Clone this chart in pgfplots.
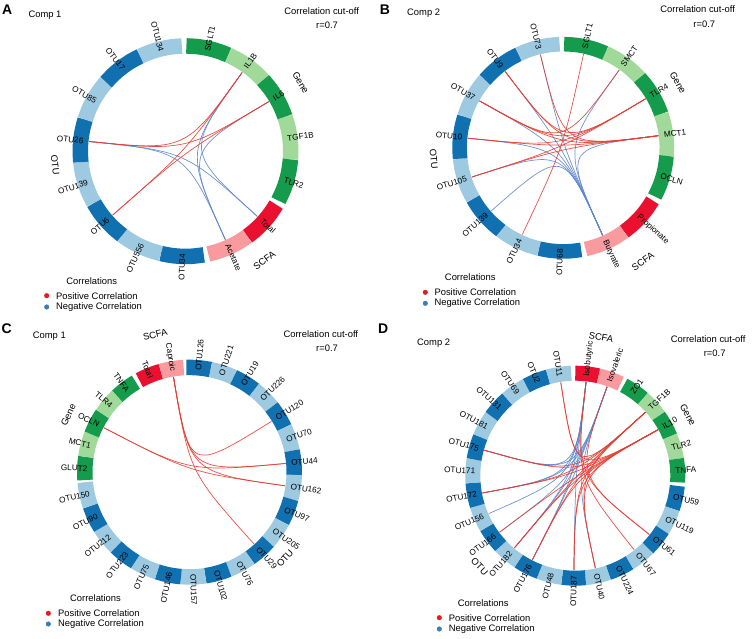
\documentclass[border=0pt]{standalone}
\usepackage{pgfplots}
\pgfplotsset{compat=1.18}
\usepackage{fontspec}
\setmainfont{Liberation Sans}
\definecolor{dg}{RGB}{20,155,75}
\definecolor{lg}{RGB}{161,217,155}
\definecolor{dr}{RGB}{236,16,48}
\definecolor{pk}{RGB}{248,154,158}
\definecolor{db}{RGB}{16,112,176}
\definecolor{lb}{RGB}{158,202,225}
\definecolor{cr}{RGB}{228,62,52}
\definecolor{cb}{RGB}{95,135,205}
\definecolor{legr}{RGB}{228,26,28}
\definecolor{legb}{RGB}{55,126,184}
\tikzset{lbl/.style={font=\fontsize{8.2}{9}\selectfont, inner sep=0pt},
         txt/.style={font=\fontsize{9.4}{11}\selectfont, inner sep=0pt}}
% panel: centre x, centre y, ring mid radius, ring width
\newcommand\panel[4]{\gdef\cx{#1}\gdef\cy{#2}\gdef\rmid{#3}\gdef\bw{#4}%
  \pgfmathsetmacro\ri{#3-#4/2-0.5}\global\let\ri\ri
  \pgfmathsetmacro\rl{#3-#4/2+5}\global\let\rl\rl}
% ring segment: start angle, end angle, colour
\newcommand\seg[3]{%
  \pgfmathsetmacro\da{((#2)-(#1))/4}%
  \pgfmathsetmacro\xA{\cx+\rmid*cos(#1)}\pgfmathsetmacro\yA{\cy+\rmid*sin(#1)}%
  \pgfmathsetmacro\xB{\cx+\rmid*cos((#1)+\da)}\pgfmathsetmacro\yB{\cy+\rmid*sin((#1)+\da)}%
  \pgfmathsetmacro\xC{\cx+\rmid*cos((#1)+2*\da)}\pgfmathsetmacro\yC{\cy+\rmid*sin((#1)+2*\da)}%
  \pgfmathsetmacro\xD{\cx+\rmid*cos((#1)+3*\da)}\pgfmathsetmacro\yD{\cy+\rmid*sin((#1)+3*\da)}%
  \pgfmathsetmacro\xE{\cx+\rmid*cos(#2)}\pgfmathsetmacro\yE{\cy+\rmid*sin(#2)}%
  \edef\tmp{\noexpand\addplot[draw=#3,line width=\bw pt,smooth] coordinates {(\xA,\yA) (\xB,\yB) (\xC,\yC) (\xD,\yD) (\xE,\yE)};}\tmp}
% chord between two segment mid angles
\newcommand\chord[3]{%
  \gdef\clist{}%
  \foreach \t in {0,0.125,0.25,0.375,0.5,0.625,0.75,0.875,1}{%
    \pgfmathsetmacro\ka{(1-\t)^3}\pgfmathsetmacro\kb{\t^3}%
    \pgfmathsetmacro\px{\cx+\ri*(\ka*cos(#1)+\kb*cos(#2))}%
    \pgfmathsetmacro\py{\cy+\ri*(\ka*sin(#1)+\kb*sin(#2))}%
    \xdef\clist{\clist (\px,\py)}}%
  \edef\tmp{\noexpand\addplot[draw=#3,line width=0.7pt,opacity=0.9,smooth] coordinates {\clist};}\tmp}
% segment label
\newcommand\lab[2]{%
  \pgfmathsetmacro\lx{\cx+\rl*cos(#1)}\pgfmathsetmacro\ly{\cy+\rl*sin(#1)}%
  \pgfmathtruncatemacro\side{cos(#1)>=0}%
  \ifnum\side=1 \node[lbl,rotate=#1,anchor=west] at (\lx,\ly) {#2};%
  \else \pgfmathsetmacro\rr{(#1)+180}\node[lbl,rotate=\rr,anchor=east] at (\lx,\ly) {#2};\fi}
% group label
\newcommand\glab[3]{%
  \pgfmathsetmacro\gx{\cx+#2*cos(#1)}\pgfmathsetmacro\gy{\cy+#2*sin(#1)}%
  \pgfmathtruncatemacro\up{sin(#1)>=0}%
  \ifnum\up=1 \pgfmathsetmacro\gr{(#1)-90}\else\pgfmathsetmacro\gr{(#1)+90}\fi
  \node[txt,rotate=\gr] at (\gx,\gy) {#3};}
\begin{document}
\begin{tikzpicture}[x=1pt,y=1pt]
\path[use as bounding box] (0,0) rectangle (752,639);
\begin{axis}[at={(0pt,0pt)},anchor=south west,scale only axis,width=752pt,height=639pt,
  xmin=0,xmax=752,ymin=0,ymax=639,hide axis,clip=false]
% ---------------- A ----------------
\panel{185.5}{487.8}{105.25}{15.5}
\seg{89.5}{66}{dg}\seg{66}{42.5}{lg}\seg{42.5}{19}{dg}\seg{19}{-4.5}{lg}\seg{-4.5}{-28}{dg}
\seg{-30.5}{-54}{dr}\seg{-54}{-77.5}{pk}
\seg{-80}{-103.5}{db}\seg{-103.5}{-127}{lb}\seg{-127}{-150.5}{db}\seg{-150.5}{-174}{lb}
\seg{-174}{-197.5}{db}\seg{-197.5}{-221}{lb}\seg{-221}{-244.5}{db}\seg{-244.5}{-268}{lb}
\chord{-185.75}{-42.25}{cb}\chord{-185.75}{-65.75}{cb}
\chord{54.25}{-65.75}{cb}\chord{54.25}{-42.25}{cb}\chord{30.75}{-65.75}{cb}
\chord{-185.75}{54.25}{cr}\chord{-185.75}{30.75}{cr}
\chord{-138.75}{54.25}{cr}\chord{-138.75}{30.75}{cr}
% ---------------- B ----------------
\panel{563.2}{491.2}{103.65}{14.6}
\seg{89.5}{66}{dg}\seg{66}{42.5}{lg}\seg{42.5}{19}{dg}\seg{19}{-4.5}{lg}\seg{-4.5}{-28}{dg}
\seg{-30.5}{-54}{dr}\seg{-54}{-77.5}{pk}
\seg{-80}{-103.5}{db}\seg{-103.5}{-127}{lb}\seg{-127}{-150.5}{db}\seg{-150.5}{-174}{lb}
\seg{-174}{-197.5}{db}\seg{-197.5}{-221}{lb}\seg{-221}{-244.5}{db}\seg{-244.5}{-268}{lb}
\chord{-65.75}{-138.75}{cb}\chord{-65.75}{-162.25}{cb}\chord{-65.75}{-185.75}{cb}
\chord{-65.75}{-209.25}{cb}\chord{-65.75}{-232.75}{cb}\chord{-65.75}{-256.25}{cb}
\chord{-65.75}{7.25}{cb}\chord{-65.75}{54.25}{cb}
\chord{7.25}{-256.25}{cr}\chord{7.25}{-232.75}{cr}\chord{7.25}{-209.25}{cr}
\chord{7.25}{-185.75}{cr}\chord{7.25}{-162.25}{cr}
\chord{30.75}{-232.75}{cr}\chord{30.75}{-209.25}{cr}\chord{30.75}{-162.25}{cr}\chord{30.75}{-185.75}{cr}
\chord{54.25}{-209.25}{cr}\chord{77.75}{-115.25}{cr}
% ---------------- C ----------------
\panel{189.5}{166.8}{104.75}{15.5}
\seg{91.7}{78.39}{db}\seg{78.39}{65.08}{lb}\seg{65.08}{51.77}{db}\seg{51.77}{38.46}{lb}
\seg{38.46}{25.15}{db}\seg{25.15}{11.84}{lb}\seg{11.84}{-1.47}{db}\seg{-1.47}{-14.78}{lb}
\seg{-14.78}{-28.09}{db}\seg{-28.09}{-41.4}{lb}\seg{-41.4}{-54.71}{db}\seg{-54.71}{-68.02}{lb}
\seg{-68.02}{-81.33}{db}\seg{-81.33}{-94.64}{lb}\seg{-94.64}{-107.95}{db}\seg{-107.95}{-121.26}{lb}
\seg{-121.26}{-134.57}{db}\seg{-134.57}{-147.88}{lb}\seg{-147.88}{-161.19}{db}\seg{-161.19}{-174.5}{lb}
\seg{184.3}{171.6}{dg}\seg{171.6}{158.9}{lg}\seg{158.9}{146.2}{dg}\seg{146.2}{133.5}{lg}\seg{133.5}{120.8}{dg}
\seg{118.6}{105.9}{dr}\seg{105.9}{93.2}{pk}
\chord{99.55}{31.81}{cr}\chord{99.55}{5.19}{cr}\chord{99.55}{-8.12}{cr}\chord{99.55}{-48.05}{cr}
\chord{152.55}{5.19}{cr}\chord{152.55}{-8.12}{cr}
% ---------------- D ----------------
\panel{575.3}{163.3}{102.5}{15}
\seg{90}{76.9}{dr}\seg{76.9}{63.8}{pk}
\seg{61.8}{48.7}{dg}\seg{48.7}{35.6}{lg}\seg{35.6}{22.5}{dg}\seg{22.5}{9.4}{lg}\seg{9.4}{-3.7}{dg}
\seg{-5.7}{-18.8}{db}\seg{-18.8}{-31.9}{lb}\seg{-31.9}{-45}{db}\seg{-45}{-58.1}{lb}
\seg{-58.1}{-71.2}{db}\seg{-71.2}{-84.3}{lb}\seg{-84.3}{-97.4}{db}\seg{-97.4}{-110.5}{lb}
\seg{-110.5}{-123.6}{db}\seg{-123.6}{-136.7}{lb}\seg{-136.7}{-149.8}{db}\seg{-149.8}{-162.9}{lb}
\seg{-162.9}{-176}{db}\seg{-176}{-189.1}{lb}\seg{-189.1}{-202.2}{db}\seg{-202.2}{-215.3}{lb}
\seg{-215.3}{-228.4}{db}\seg{-228.4}{-241.5}{lb}\seg{-241.5}{-254.6}{db}\seg{-254.6}{-267.7}{lb}
\chord{83.45}{-195.65}{cb}\chord{83.45}{-169.45}{cb}\chord{83.45}{-130.15}{cb}
\chord{83.45}{-117.05}{cb}\chord{83.45}{-90.85}{cb}\chord{83.45}{-156.35}{cb}
\chord{70.35}{-195.65}{cb}\chord{70.35}{-169.45}{cb}\chord{70.35}{-130.15}{cb}
\chord{70.35}{-117.05}{cb}\chord{70.35}{-143.25}{cb}\chord{70.35}{-77.75}{cb}
\chord{42.15}{-195.65}{cr}\chord{42.15}{-169.45}{cr}\chord{42.15}{-130.15}{cr}\chord{42.15}{-117.05}{cr}
\chord{42.15}{-90.85}{cr}\chord{42.15}{-77.75}{cr}\chord{42.15}{-261.15}{cr}
\chord{29.05}{-195.65}{cr}\chord{29.05}{-169.45}{cr}\chord{29.05}{-130.15}{cr}\chord{29.05}{-117.05}{cr}
\chord{29.05}{-90.85}{cr}\chord{29.05}{-77.75}{cr}\chord{29.05}{-261.15}{cr}\chord{29.05}{-143.25}{cr}
\chord{83.45}{-38.45}{cr}\chord{83.45}{-51.55}{cr}\chord{70.35}{-38.45}{cr}
% ---------------- legend dots ----------------
\addplot[only marks,mark=*,mark size=2.3pt,color=legr] coordinates {(46.7,343.3) (425.3,346.7) (48.3,25.7) (439.3,21.3)};
\addplot[only marks,mark=*,mark size=2.3pt,color=legb] coordinates {(46.7,332) (425.3,335.7) (48.3,15) (439.3,10)};
\end{axis}
% ================= texts =================
% A
\node[font=\fontsize{14}{14}\selectfont\bfseries,inner sep=0pt] at (7.2,629) {A};
\node[txt,anchor=west] at (28.3,624) {Comp 1};
\node[txt] at (321.7,628) {Correlation cut-off};
\node[txt] at (327,614) {r=0.7};
\node[txt] at (91.7,358) {Correlations};
\node[txt,anchor=west] at (56,343.3) {Positive Correlation};
\node[txt,anchor=west] at (56,332) {Negative Correlation};
\panel{185.5}{487.8}{105.25}{15.5}
\lab{77.75}{SGLT1}\lab{54.25}{IL1B}\lab{30.75}{IL6}\lab{7.25}{TGF1B}\lab{-16.25}{TLR2}
\lab{-42.25}{Total}\lab{-65.75}{Acetate}
\lab{-91.75}{OTU34}\lab{-115.25}{OTU556}\lab{-138.75}{OTU6}\lab{-162.25}{OTU139}
\lab{-185.75}{OTU26}\lab{-209.25}{OTU85}\lab{-232.75}{OTU17}\lab{-256.25}{OTU134}
\glab{30.75}{134}{Gene}\glab{-54.25}{135}{SCFA}\glab{186}{131}{OTU}
% B
\node[font=\fontsize{14}{14}\selectfont\bfseries,inner sep=0pt] at (385,629.5) {B};
\node[txt,anchor=west] at (407,625.7) {Comp 2};
\node[txt] at (697.7,629.7) {Correlation cut-off};
\node[txt] at (704.3,615) {r=0.7};
\node[txt] at (470.3,362.3) {Correlations};
\node[txt,anchor=west] at (434.3,346.7) {Positive Correlation};
\node[txt,anchor=west] at (434.3,335.7) {Negative Correlation};
\panel{563.2}{491.2}{103.65}{14.6}
\lab{77.75}{SGLT1}\lab{54.25}{SMCT}\lab{30.75}{TLR4}\lab{7.25}{MCT1}\lab{-16.25}{OCLN}
\lab{-42.25}{Propionate}\lab{-65.75}{Butyrate}
\lab{-91.75}{OTU68}\lab{-115.25}{OTU34}\lab{-138.75}{OTU139}\lab{-162.25}{OTU105}
\lab{-185.75}{OTU10}\lab{-209.25}{OTU37}\lab{-232.75}{OTU9}\lab{-256.25}{OTU73}
\glab{29.6}{132}{Gene}\glab{-55}{139}{SCFA}\glab{185}{130}{OTU}
% C
\node[font=\fontsize{14}{14}\selectfont\bfseries,inner sep=0pt] at (6.8,310.7) {C};
\node[txt,anchor=west] at (32.7,302.3) {Comp 1};
\node[txt] at (320.8,305) {Correlation cut-off};
\node[txt] at (327,290.7) {r=0.7};
\node[txt] at (95.5,41.3) {Correlations};
\node[txt,anchor=west] at (58,25.7) {Positive Correlation};
\node[txt,anchor=west] at (58,15) {Negative Correlation};
\panel{189.5}{166.8}{104.75}{15.5}
\lab{85.05}{OTU126}\lab{71.74}{OTU221}\lab{58.43}{OTU19}\lab{45.12}{OTU226}\lab{31.81}{OTU120}
\lab{18.5}{OTU70}\lab{5.19}{OTU44}\lab{-8.12}{OTU162}\lab{-21.43}{OTU97}\lab{-34.74}{OTU205}
\lab{-48.05}{OTU29}\lab{-61.36}{OTU76}\lab{-74.67}{OTU102}\lab{-87.98}{OTU157}\lab{-101.29}{OTU146}
\lab{-114.6}{OTU75}\lab{-127.91}{OTU223}\lab{-141.22}{OTU212}\lab{-154.53}{OTU90}\lab{-167.84}{OTU150}
\lab{177.95}{GLUT2}\lab{165.25}{MCT1}\lab{152.55}{OCLN}\lab{139.85}{TLR4}\lab{127.15}{TNFA}
\lab{112.25}{Total}\lab{99.55}{Caproic}
\glab{104}{142}{SCFA}\glab{154.7}{134}{Gene}\glab{-42}{128.5}{OTU}
% D
\node[font=\fontsize{14}{14}\selectfont\bfseries,inner sep=0pt] at (383.2,310.7) {D};
\node[txt,anchor=west] at (417,295.7) {Comp 2};
\node[txt] at (708.2,299.7) {Correlation cut-off};
\node[txt] at (714.7,285.7) {r=0.7};
\node[txt] at (483.2,35.7) {Correlations};
\node[txt,anchor=west] at (448.7,21.3) {Positive Correlation};
\node[txt,anchor=west] at (448.7,10) {Negative Correlation};
\panel{575.3}{163.3}{102.5}{15}
\lab{83.45}{Isobutyric}\lab{70.35}{Isovaleric}
\lab{55.25}{ZO1}\lab{42.15}{TGF1B}\lab{29.05}{IL10}\lab{15.95}{TLR2}\lab{2.85}{TNFA}
\lab{-12.25}{OTU59}\lab{-25.35}{OTU119}\lab{-38.45}{OTU61}\lab{-51.55}{OTU67}\lab{-64.65}{OTU224}
\lab{-77.75}{OTU40}\lab{-90.85}{OTU187}\lab{-103.95}{OTU48}\lab{-117.05}{OTU176}\lab{-130.15}{OTU182}
\lab{-143.25}{OTU166}\lab{-156.35}{OTU156}\lab{-169.45}{OTU172}\lab{-182.55}{OTU171}\lab{-195.65}{OTU175}
\lab{-208.75}{OTU181}\lab{-221.85}{OTU131}\lab{-234.95}{OTU69}\lab{-248.05}{OTU2}\lab{-261.15}{OTU11}
\glab{28.4}{128}{Gene}\glab{79.5}{141}{SCFA}\glab{223.5}{132}{OTU}
\end{tikzpicture}
\end{document}
